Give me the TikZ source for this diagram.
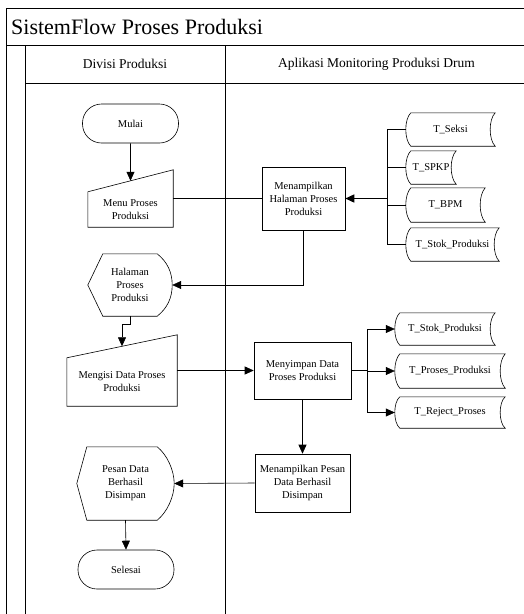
\documentclass[tikz,border=0pt]{standalone}
\usepackage{fontspec}
\setmainfont{Liberation Serif}
\usetikzlibrary{arrows.meta,calc}
\newcommand{\fsbody}{\fontsize{10.5}{13}\selectfont}
\newcommand{\fshead}{\fontsize{13.5}{15}\selectfont}
\newcommand{\fstitle}{\fontsize{22}{24}\selectfont}
% manual input: #1 node, #2 rise of the top right corner
\newcommand{\inputmanual}[2]{%
  \coordinate (#1-ne) at ($(#1.north east)+(0,-#2)$);
  \coordinate (#1-top) at ($(#1.north west)!0.5!(#1-ne)$);
  \draw[garis] (#1.north west) -- (#1-ne) -- (#1.south east) -- (#1.south west) -- cycle;}
% display: #1 node, #2 left inset, #3 right inset
\newcommand{\tampilan}[3]{%
  \draw[garis] (#1.west) -- ($(#1.north west)+(#2,0)$) -- ($(#1.north east)+(-#3,0)$)
    .. controls ($(#1.north east)+(-#3,0)+(10,8)$) and ($(#1.east)+(0,-13)$) .. (#1.east)
    .. controls ($(#1.east)+(0,13)$) and ($(#1.south east)+(-#3,0)+(10,-8)$) .. ($(#1.south east)+(-#3,0)$)
    -- ($(#1.south west)+(#2,0)$) -- cycle;}
% stored data
\newcommand{\tabeldata}[1]{%
  \draw[garis] ($(#1.north west)+(5,0)$)
    .. controls ($(#1.west)+(-1.7,-10)$) and ($(#1.west)+(-1.7,10)$) .. ($(#1.south west)+(5,0)$)
    -- (#1.south east)
    .. controls ($(#1.east)+(-6.7,10)$) and ($(#1.east)+(-6.7,-10)$) .. (#1.north east) -- cycle;}
\tikzset{
  garis/.style={line width=0.6pt},
  bingkai/.style={line width=0.9pt},
  teks/.style={align=center,inner sep=0pt,font=\fsbody},
  proses/.style={teks,draw,garis},
  terminal/.style={teks,draw,garis,rounded corners=19pt,minimum width=96pt,minimum height=39pt},
  arr/.style={garis,->},
  tebal/.style={line width=1.5pt}
}
\begin{document}
\begin{tikzpicture}[x=1pt,y=-1pt,>={Triangle[length=9pt,width=8pt]}]
\clip (0,0) rectangle (524,614);
% ---- frame and lanes ----
\draw[bingkai] (6,614) -- (6,8) -- (530,8);
\draw[bingkai] (6,45) -- (530,45);
\draw[bingkai] (25,83) -- (530,83);
\draw[bingkai] (25,45) -- (25,614);
\draw[bingkai] (225,45) -- (225,614);
\node[anchor=west,font=\fstitle,inner sep=0pt] (judul) at (11,27) {SistemFlow Proses Produksi};
\node[font=\fshead] (lane1) at (125,64) {Divisi Produksi};
\node[font=\fshead] (lane2) at (376.5,64) {Aplikasi Monitoring Produksi Drum};
% ---- divisi produksi ----
\node[terminal] (mulai) at (130.5,123.5) {Mulai};
\node[teks,minimum width=85pt,minimum height=35pt] (menu) at (130.5,209.5) {Menu Proses\\Produksi};
\inputmanual{menu}{22}
\node[teks,minimum width=84pt,minimum height=62pt] (halaman) at (130,285) {Halaman\\Proses\\Produksi};
\tampilan{halaman}{15}{15}
\node[teks,minimum width=110pt,minimum height=48pt] (mengisi) at (122,382) {Mengisi Data Proses\\Produksi};
\inputmanual{mengisi}{23}
\node[teks,minimum width=97pt,minimum height=73pt] (pesan) at (125.5,483.5) {Pesan Data\\Berhasil\\Disimpan};
\tampilan{pesan}{10}{17}
\node[terminal] (selesai) at (126,569.5) {Selesai};
% ---- aplikasi ----
\node[proses,minimum width=83pt,minimum height=63pt] (menhal) at (303.5,198.5) {Menampilkan\\Halaman Proses\\Produksi};
\node[proses,minimum width=97pt,minimum height=57pt] (menyimpan) at (302.5,370.5) {Menyimpan Data\\Proses Produksi};
\node[proses,minimum width=95pt,minimum height=58pt] (menpesan) at (302.5,483) {Menampilkan Pesan\\Data Berhasil\\Disimpan};
% ---- tabel ----
\node[teks,minimum width=89pt,minimum height=33pt] (tseksi) at (450.5,129.5) {T\_Seksi};
\node[teks,minimum width=50pt,minimum height=33pt] (tspkp) at (431,167.5) {T\_SPKP};
\node[teks,minimum width=79pt,minimum height=34pt] (tbpm) at (445.5,205) {T\_BPM};
\node[teks,minimum width=93pt,minimum height=33pt] (tstok) at (452.5,244.5) {T\_Stok\_Produksi};
\node[teks,minimum width=100pt,minimum height=32pt] (tstokb) at (445,329) {T\_Stok\_Produksi};
\node[teks,minimum width=110pt,minimum height=34pt] (tproses) at (450,371) {T\_Proses\_Produksi};
\node[teks,minimum width=110pt,minimum height=31pt] (treject) at (450,412.5) {T\_Reject\_Proses};
\foreach \t in {tseksi,tspkp,tbpm,tstok,tstokb,tproses,treject}{\tabeldata{\t}}
% ---- connectors ----
\coordinate (jn1) at (387,198.5);
\coordinate (jn2) at (367,370.5);
\draw[arr] (mulai.south) -- (menu-top);
\draw[garis] (menu.east |- menhal.west) -- (menhal.west);
\foreach \t in {tseksi,tspkp,tbpm,tstok}{\draw[garis] (\t.west) -| (jn1);}
\draw[tebal,->] (jn1) -- (menhal.east);
\draw[arr] (menhal.south) |- (halaman.east);
\draw[arr] (halaman.south) -- ++(0,8) -| (mengisi-top);
\draw[arr] (mengisi.east |- menyimpan.west) -- (menyimpan.west);
\draw[tebal] (menyimpan.east) -- (jn2);
\foreach \t in {tstokb,tproses,treject}{\draw[arr] (jn2) |- (\t.west);}
\draw[arr] (menyimpan.south) -- (menpesan.north);
\draw[arr] (menpesan.west) -- (pesan.east);
\draw[arr] (pesan.south) -- (selesai.north);
\end{tikzpicture}
\end{document}
